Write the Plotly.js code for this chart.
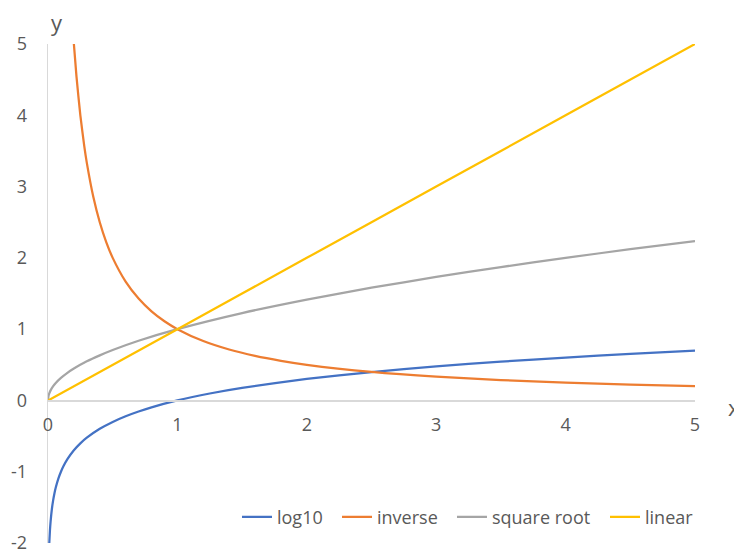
<!DOCTYPE html>
<html>
<head>
<meta charset="utf-8">
<script src="https://cdn.plot.ly/plotly-3.0.1.min.js"></script>
<style>
  html, body { margin: 0; padding: 0; background: #ffffff; }
  #chart { width: 734px; height: 551px; }
</style>
</head>
<body>
<div id="chart"></div>
<script>
// log10(x)
const logX = [0.01, 0.015, 0.02, 0.03, 0.04, 0.05, 0.06, 0.08, 0.1, 0.12, 0.15, 0.2, 0.25, 0.3, 0.4, 0.5, 0.6, 0.7, 0.8, 1, 1.25, 1.5, 2, 2.5, 3, 3.5, 4, 4.5, 5];
const logY = [-2, -1.824, -1.699, -1.523, -1.398, -1.301, -1.222, -1.097, -1, -0.921, -0.824, -0.699, -0.602, -0.523, -0.398, -0.301, -0.222, -0.155, -0.097, 0, 0.097, 0.176, 0.301, 0.398, 0.477, 0.544, 0.602, 0.653, 0.699];

// 1/x
const invX = [0.2, 0.22, 0.25, 0.28, 0.3, 0.35, 0.4, 0.45, 0.5, 0.6, 0.7, 0.8, 0.9, 1, 1.2, 1.4, 1.6, 1.8, 2, 2.5, 3, 3.5, 4, 4.5, 5];
const invY = [5, 4.545, 4, 3.571, 3.333, 2.857, 2.5, 2.222, 2, 1.667, 1.429, 1.25, 1.111, 1, 0.833, 0.714, 0.625, 0.556, 0.5, 0.4, 0.333, 0.286, 0.25, 0.222, 0.2];

// sqrt(x)
const sqrtX = [0, 0.005, 0.01, 0.02, 0.04, 0.06, 0.1, 0.15, 0.2, 0.3, 0.4, 0.5, 0.7, 1, 1.5, 2, 2.5, 3, 3.5, 4, 4.5, 5];
const sqrtY = [0, 0.071, 0.1, 0.141, 0.2, 0.245, 0.316, 0.387, 0.447, 0.548, 0.632, 0.707, 0.837, 1, 1.225, 1.414, 1.581, 1.732, 1.871, 2, 2.121, 2.236];

// x
const linX = [0, 1, 2, 3, 4, 5];
const linY = [0, 1, 2, 3, 4, 5];

const seriesNames = ['log10', 'inverse', 'square root', 'linear'];
const seriesColors = ['#4472C4', '#ED7D31', '#A5A5A5', '#FFC000'];

const xTicks = [0, 1, 2, 3, 4, 5];
const yTicks = [-2, -1, 0, 1, 2, 3, 4, 5];

const FONT = 'Open Sans, Noto Sans, sans-serif';
const TEXT = '#595959';

// one single-entry legend per series, laid out in a row below the curves
const legendIds = ['legend', 'legend2', 'legend3', 'legend4'];
const legendX = [0.2921, 0.4467, 0.6244, 0.8609];

const curves = [[logX, logY], [invX, invY], [sqrtX, sqrtY], [linX, linY]];
const traces = curves.map(([xs, ys], i) => ({
  type: 'scatter',
  mode: 'lines',
  x: xs,
  y: ys,
  name: seriesNames[i],
  legend: legendIds[i],
  line: { color: seriesColors[i], width: 2.25, shape: 'spline', smoothing: 0.6 },
  hoverinfo: 'x+y+name'
}));

const layout = {
  width: 734,
  height: 551,
  margin: { l: 48, r: 39, t: 44, b: 8, pad: 0 },
  paper_bgcolor: '#ffffff',
  plot_bgcolor: '#ffffff',
  font: { family: FONT, color: TEXT, size: 18 },
  showlegend: true,
  xaxis: {
    range: [0, 5],
    tickvals: xTicks,
    ticktext: xTicks.map(String),
    showgrid: false,
    zeroline: false,
    showline: true,
    linecolor: '#D9D9D9',
    linewidth: 1.3,
    ticks: '',
    anchor: 'free',
    position: 2 / 7,
    ticklabelstandoff: 8,
    tickfont: { family: FONT, size: 18, color: TEXT },
    fixedrange: true
  },
  yaxis: {
    range: [-2, 5],
    tickvals: yTicks,
    ticktext: yTicks.map(String),
    showgrid: false,
    zeroline: false,
    showline: true,
    linecolor: '#D9D9D9',
    linewidth: 1.3,
    ticks: '',
    ticklabelstandoff: 16,
    ticklabeloverflow: 'allow',
    tickfont: { family: FONT, size: 18, color: TEXT },
    fixedrange: true
  },
  annotations: [
    { text: 'y', xref: 'paper', yref: 'paper', x: 0.0139, y: 1.045, xanchor: 'center', yanchor: 'middle',
      showarrow: false, font: { family: FONT, size: 22, color: TEXT } },
    { text: 'x', xref: 'paper', yref: 'paper', x: 1.0475, y: 0.2725, xanchor: 'left', yanchor: 'middle',
      showarrow: false, font: { family: FONT, size: 22, color: TEXT } }
  ]
};

legendIds.forEach((id, i) => {
  layout[id] = {
    orientation: 'h',
    x: legendX[i], xanchor: 'left',
    y: 0.052, yanchor: 'middle',
    bgcolor: 'rgba(0,0,0,0)',
    font: { family: FONT, size: 18, color: TEXT },
    itemwidth: 30
  };
});

Plotly.newPlot('chart', traces, layout, { displayModeBar: false, staticPlot: true });
</script>
</body>
</html>
